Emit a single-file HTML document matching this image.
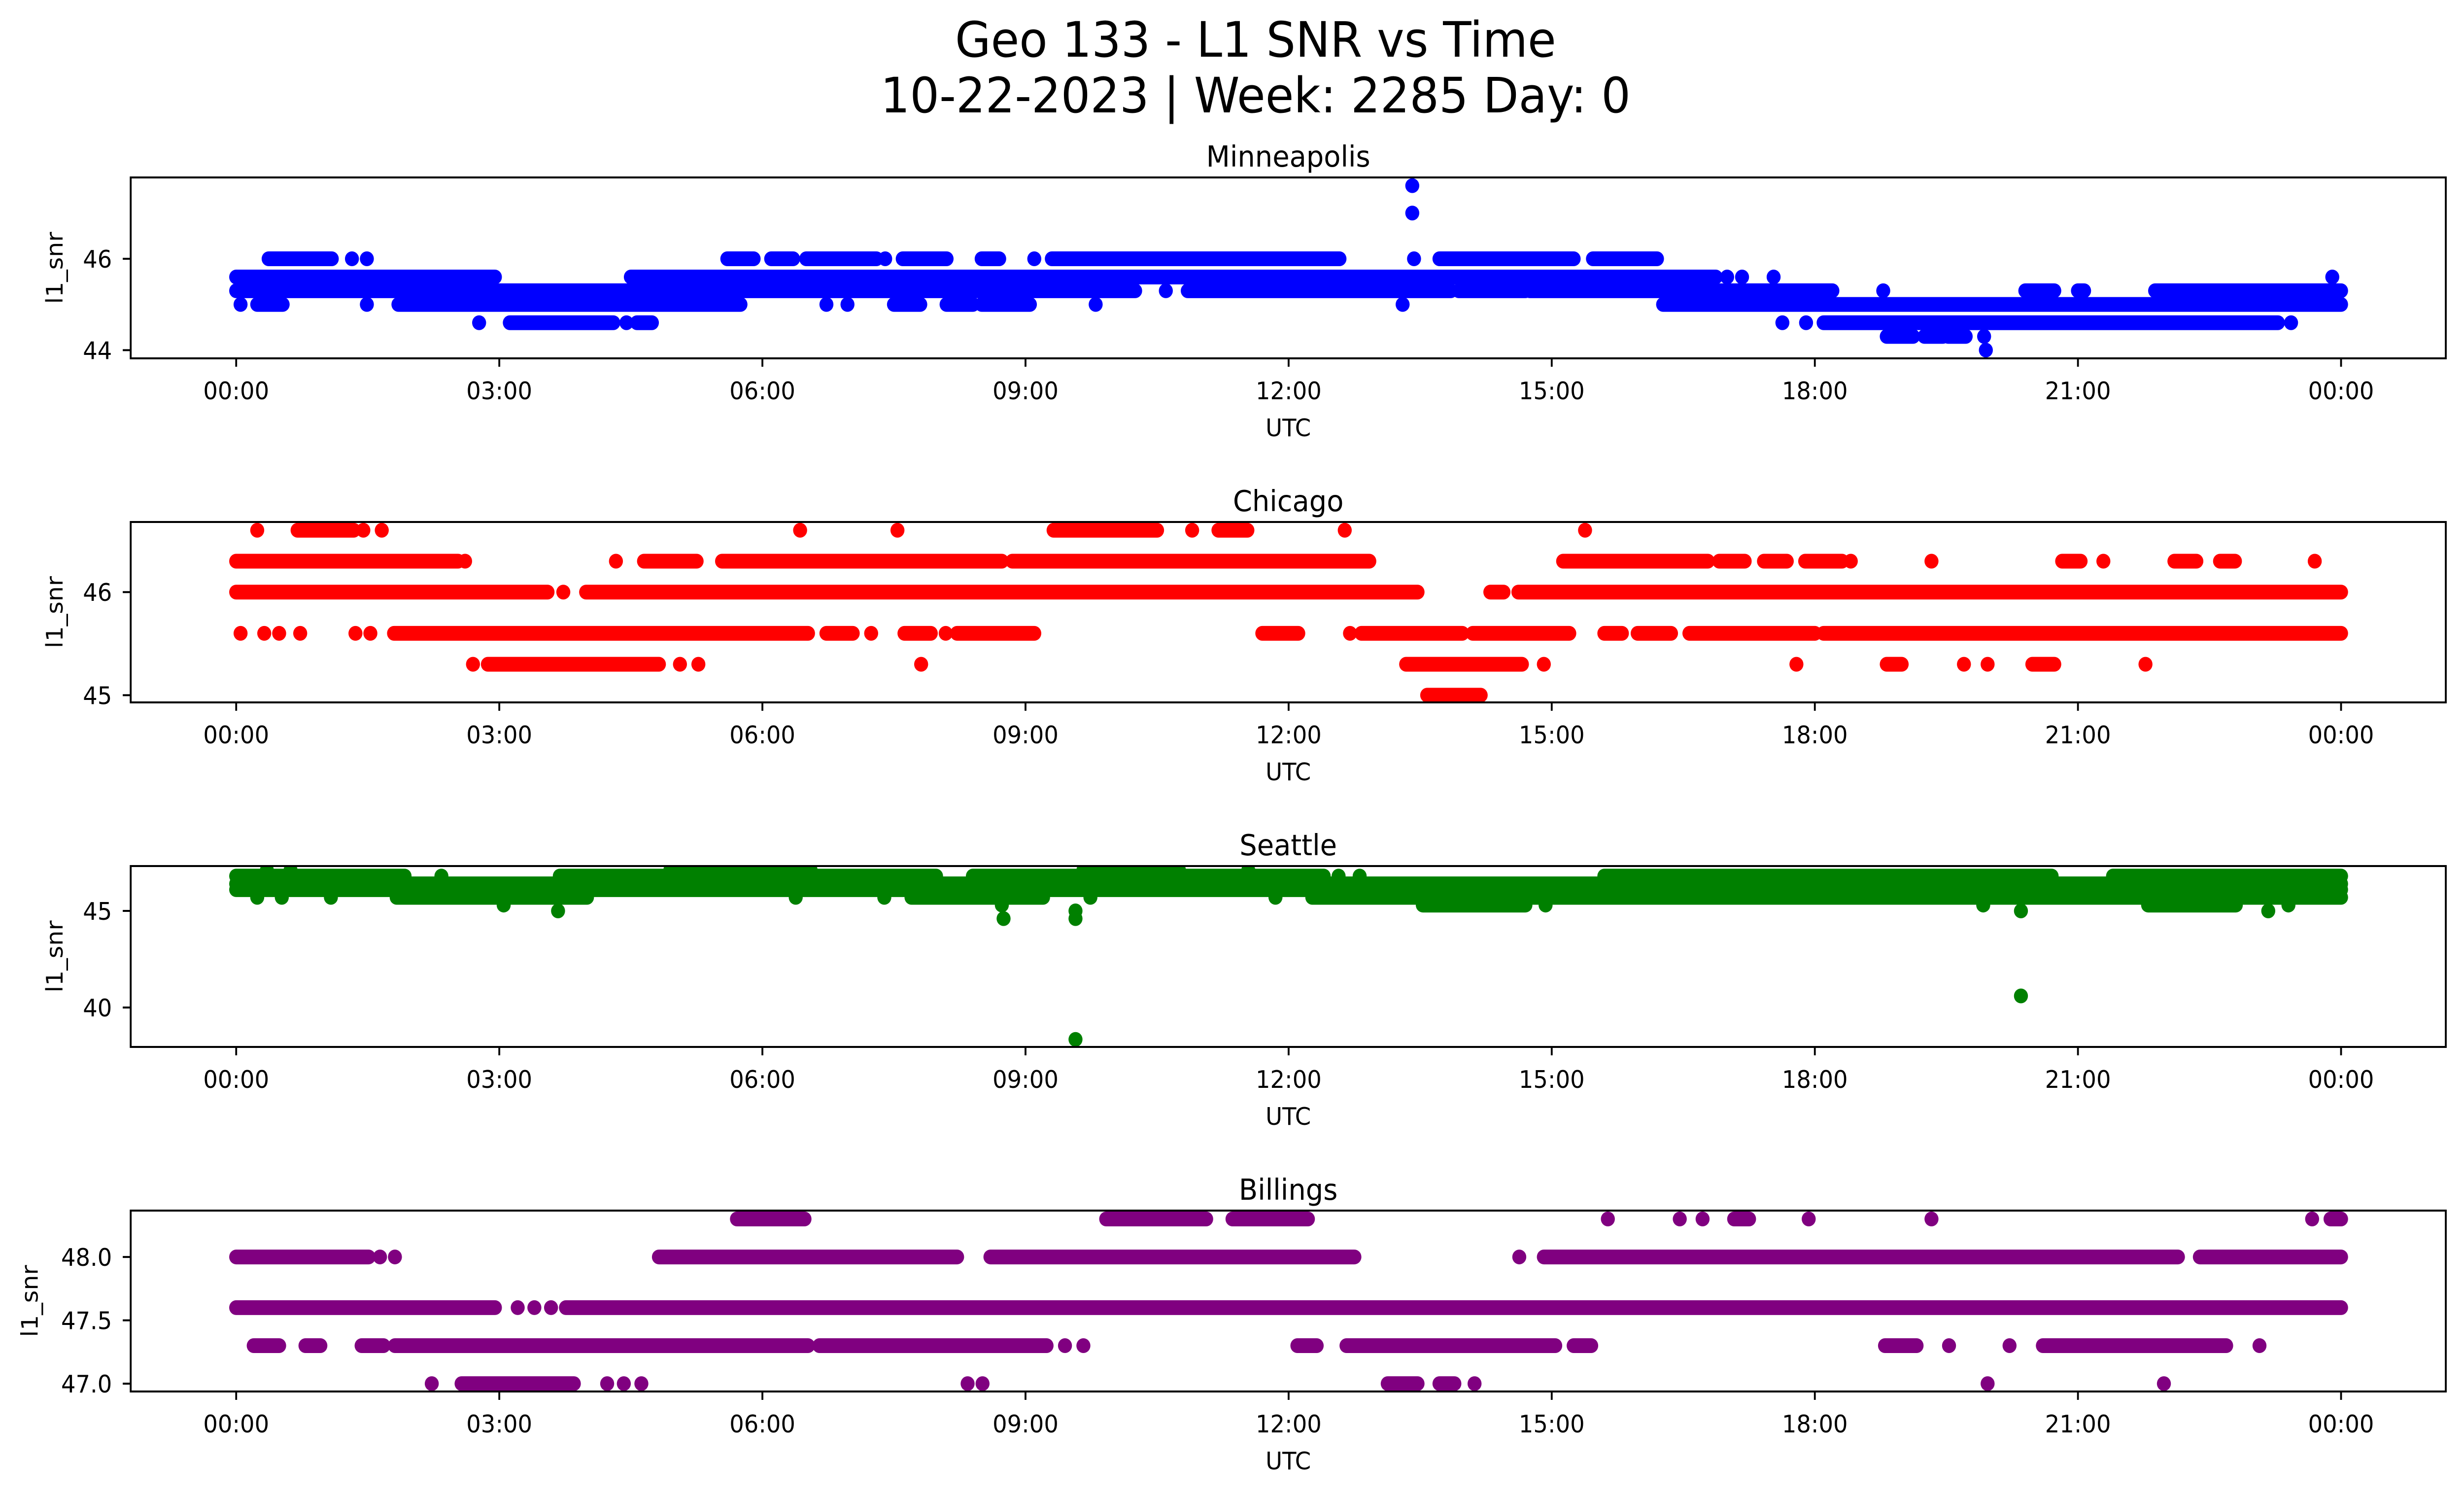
<!DOCTYPE html>
<html><head><meta charset="utf-8"><title>Geo 133 - L1 SNR vs Time</title>
<style>
html,body{margin:0;padding:0;background:#fff;overflow:hidden;width:100%;height:100%;}
svg{display:block;width:100vw;height:100vh;font-family:"DejaVu Sans","Liberation Sans",sans-serif;}
</style></head>
<body>
<svg id="fig" viewBox="0 0 5279 3033" preserveAspectRatio="none" xmlns="http://www.w3.org/2000/svg">
<rect x="0" y="0" width="5279" height="3033" fill="#fff"/>
<text x="2690" y="115" font-size="99" text-anchor="middle">Geo 133 - L1 SNR vs Time</text>
<text x="2690" y="228" font-size="99" text-anchor="middle">10-22-2023 | Week: 2285 Day: 0</text>
</svg>
<script>
// ---- data (hours UTC, SNR levels) ----
const hourTicks = [0,3,6,9,12,15,18,21,24];
const hourTickLabels = ["00:00","03:00","06:00","09:00","12:00","15:00","18:00","21:00","00:00"];

const mplsLevels = [47.6, 47.0, 46.0, 45.6, 45.3, 45.0, 44.6, 44.3, 44.0];
const mplsRuns = [
 [[13.41,13.41]],
 [[13.41,13.41]],
 [[0.37,1.09],[1.32,1.32],[1.49,1.49],[5.6,5.9],[6.1,6.35],[6.5,7.3],[7.4,7.4],[7.6,8.1],[8.5,8.7],[9.1,9.1],[9.3,12.58],[13.43,13.43],[13.72,15.25],[15.47,16.2]],
 [[0,2.95],[4.5,16.87],[17.0,17.0],[17.17,17.17],[17.53,17.53],[23.9,23.9]],
 [[0,10.25],[10.6,10.6],[10.85,13.85],[13.94,14.7],[14.75,18.2],[18.78,18.78],[20.4,20.73],[21.0,21.07],[21.88,24]],
 [[0.05,0.05],[0.24,0.53],[1.49,1.49],[1.85,5.75],[6.73,6.73],[6.97,6.97],[7.5,7.8],[8.1,8.4],[8.5,9.05],[9.8,9.8],[13.3,13.3],[16.27,24]],
 [[2.77,2.77],[3.12,4.3],[4.45,4.45],[4.57,4.74],[17.63,17.63],[17.9,17.9],[18.1,23.28],[23.43,23.43]],
 [[18.82,19.12],[19.25,19.46],[19.52,19.72],[19.93,19.93]],
 [[19.95,19.95]]
];
const mplsTicks = [44, 46];
const mplsTickLabels = ["44","46"];

const chiLevels = [46.6, 46.3, 46.0, 45.6, 45.3, 45.0];
const chiRuns = [
 [[0.24,0.24],[0.7,1.34],[1.45,1.45],[1.66,1.66],[6.43,6.43],[7.54,7.54],[9.32,10.5],[10.9,10.9],[11.2,11.53],[12.64,12.64],[15.38,15.38]],
 [[0,2.53],[2.61,2.61],[4.33,4.33],[4.65,5.25],[5.54,8.73],[8.85,12.92],[15.13,16.78],[16.91,17.2],[17.42,17.68],[17.89,18.31],[18.41,18.41],[19.33,19.33],[20.82,21.03],[21.29,21.29],[22.1,22.35],[22.62,22.79],[23.7,23.7]],
 [[0,3.55],[3.73,3.73],[3.99,13.47],[14.3,14.45],[14.62,24]],
 [[0.05,0.05],[0.32,0.32],[0.49,0.49],[0.73,0.73],[1.36,1.36],[1.53,1.53],[1.8,6.52],[6.73,7.03],[7.24,7.24],[7.62,7.92],[8.09,8.09],[8.22,9.1],[11.7,12.11],[12.7,12.7],[12.83,13.98],[14.1,15.2],[15.6,15.8],[15.98,16.36],[16.57,18.0],[18.1,24]],
 [[2.7,2.7],[2.87,4.82],[5.06,5.06],[5.27,5.27],[7.81,7.81],[13.34,14.66],[14.91,14.91],[17.79,17.79],[18.82,18.99],[19.7,19.7],[19.97,19.97],[20.48,20.73],[21.77,21.77]],
 [[13.58,14.19]]
];
const chiTicks = [45, 46];
const chiTickLabels = ["45","46"];

const seaLevels = [47.1, 46.8, 46.4, 46.1, 45.7, 45.3, 45.0, 44.6, 40.6, 38.35];
const seaRuns = [
 [[0.35,0.35],[0.62,0.62],[4.95,6.55],[9.66,10.75],[11.54,11.54]],
 [[0,1.92],[2.34,2.34],[3.69,7.98],[8.4,12.4],[12.57,12.57],[12.81,12.81],[15.6,20.7],[21.4,24]],
 [[0,24]],
 [[0,24]],
 [[0.24,0.24],[0.52,0.52],[1.08,1.08],[1.83,4.0],[6.38,6.38],[7.39,7.39],[7.7,9.2],[9.74,9.74],[11.85,11.85],[12.27,24]],
 [[3.05,3.05],[8.73,8.73],[13.53,14.7],[14.93,14.93],[19.92,19.92],[21.8,22.8],[23.4,23.4]],
 [[3.67,3.67],[9.57,9.57],[20.35,20.35],[23.17,23.17]],
 [[8.75,8.75],[9.57,9.57]],
 [[20.35,20.35]],
 [[9.57,9.57]]
];
const seaTicks = [40, 45];
const seaTickLabels = ["40","45"];

const bilLevels = [48.3, 48.0, 47.6, 47.3, 47.0];
const bilRuns = [
 [[5.71,6.48],[9.92,11.06],[11.36,12.22],[15.64,15.64],[16.46,16.46],[16.72,16.72],[17.08,17.25],[17.93,17.93],[19.33,19.33],[23.67,23.67],[23.88,24]],
 [[0,1.51],[1.64,1.64],[1.81,1.81],[4.82,8.22],[8.6,12.75],[14.63,14.63],[14.91,22.14],[22.39,24]],
 [[0,2.95],[3.21,3.21],[3.4,3.4],[3.59,3.59],[3.76,24]],
 [[0.2,0.49],[0.79,0.96],[1.43,1.68],[1.81,6.52],[6.65,9.24],[9.45,9.45],[9.66,9.66],[12.1,12.32],[12.66,15.04],[15.25,15.45],[18.8,19.16],[19.53,19.53],[20.22,20.22],[20.6,22.69],[23.07,23.07]],
 [[2.23,2.23],[2.57,3.85],[4.23,4.23],[4.42,4.42],[4.62,4.62],[8.34,8.34],[8.51,8.51],[13.13,13.47],[13.72,13.89],[14.12,14.12],[19.97,19.97],[21.98,21.98]]
];
const bilTicks = [47.0, 47.5, 48.0];
const bilTickLabels = ["47.0","47.5","48.0"];

// ---- layout ----
const NS = "http://www.w3.org/2000/svg";
const svg = document.getElementById("fig");
const AX_L = 280, AX_R = 5240, X0 = 506, PX_PER_H = 187.9;
function xScale(h){ return X0 + h * PX_PER_H; }
function mk(tag, attrs, parent){
  const e = document.createElementNS(NS, tag);
  for (const k in attrs) e.setAttribute(k, attrs[k]);
  (parent||svg).appendChild(e);
  return e;
}
const panels = [
 {key:"minneapolis", title:"Minneapolis", top:360, bottom:727, ymin:43.82, ymax:47.78, color:"#0000ff", levels:mplsLevels, runs:mplsRuns, ticks:mplsTicks, tickLabels:mplsTickLabels, ylabX:118},
 {key:"chicago", title:"Chicago", top:1059, bottom:1425, ymin:44.93, ymax:46.68, color:"#ff0000", levels:chiLevels, runs:chiRuns, ticks:chiTicks, tickLabels:chiTickLabels, ylabX:118},
 {key:"seattle", title:"Seattle", top:1757, bottom:2124, ymin:37.96, ymax:47.32, color:"#008000", levels:seaLevels, runs:seaRuns, ticks:seaTicks, tickLabels:seaTickLabels, ylabX:118},
 {key:"billings", title:"Billings", top:2456, bottom:2823, ymin:46.938, ymax:48.366, color:"#800080", levels:bilLevels, runs:bilRuns, ticks:bilTicks, tickLabels:bilTickLabels, ylabX:65}
];
panels.forEach(p => {
  const g = mk("g", {});
  
  
  const yScale = v => p.bottom - (v - p.ymin) / (p.ymax - p.ymin) * (p.bottom - p.top);
  const cp = mk("clipPath", {id:"clip-"+p.key}, g);
  mk("rect", {x:AX_L, y:p.top, width:AX_R-AX_L, height:p.bottom-p.top}, cp);
  const marks = mk("g", {"clip-path":"url(#clip-"+p.key+")", stroke:p.color, "stroke-width":30, "stroke-linecap":"round"}, g);
  
  
  p.levels.forEach((lv, i) => {
    p.runs[i].forEach(r => {
      const y = yScale(lv);
      const ln = mk("line", {x1:xScale(r[0]), y1:y, x2:xScale(r[1]) + 0.01, y2:y}, marks);
      
      
    });
  });
  const fr = mk("rect", {x:AX_L, y:p.top, width:AX_R-AX_L, height:p.bottom-p.top, fill:"none", stroke:"#000", "stroke-width":4}, g);
  
  
  hourTicks.forEach((h, i) => {
    const x = xScale(h);
    const t = mk("line", {x1:x, y1:p.bottom, x2:x, y2:p.bottom+17, stroke:"#000", "stroke-width":4}, g);
    
    
    const lb = mk("text", {x:x, y:p.bottom+83, "font-size":49, "text-anchor":"middle"}, g);
    lb.textContent = hourTickLabels[i];
    
    
  });
  p.ticks.forEach((v, i) => {
    const y = yScale(v);
    const t = mk("line", {x1:AX_L-17, y1:y, x2:AX_L, y2:y, stroke:"#000", "stroke-width":4}, g);
    
    
    const lb = mk("text", {x:AX_L-40, y:y+18, "font-size":49, "text-anchor":"end"}, g);
    lb.textContent = p.tickLabels[i];
    
    
  });
  const xl = mk("text", {x:(AX_L+AX_R)/2, y:p.bottom+158, "font-size":49, "text-anchor":"middle"}, g);
  xl.textContent = "UTC";
  
  
  const cy = (p.top + p.bottom) / 2;
  const yl = mk("text", {x:p.ylabX, y:cy, "font-size":49, "text-anchor":"middle", "dominant-baseline":"central", transform:"rotate(-90 "+p.ylabX+" "+cy+")"}, g);
  yl.textContent = "l1_snr";
  
  
  const tt = mk("text", {x:(AX_L+AX_R)/2, y:p.top-22, "font-size":59, "text-anchor":"middle"}, g);
  tt.textContent = p.title;
  
  
});
</script>
</body></html>
